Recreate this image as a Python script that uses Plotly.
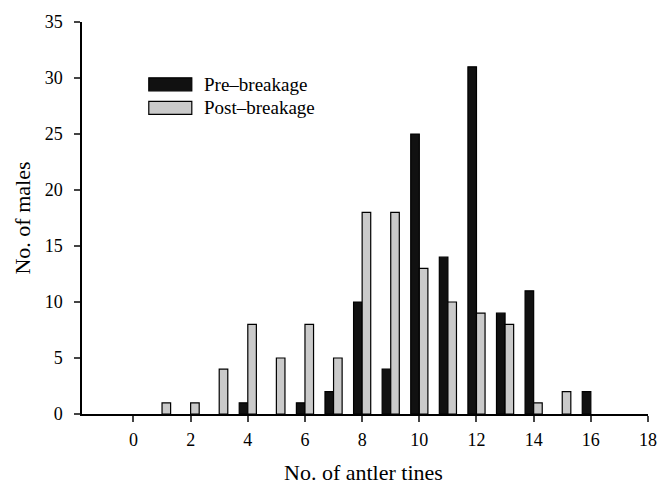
import plotly.graph_objects as go

tines = list(range(0, 17))
pre = [0, 0, 0, 0, 1, 0, 1, 2, 10, 4, 25, 14, 31, 9, 11, 0, 2]
post = [0, 1, 1, 4, 8, 5, 8, 5, 18, 18, 13, 10, 9, 8, 1, 2, 0]
x_ticks = list(range(0, 19, 2))
y_ticks = list(range(0, 36, 5))
series_names = ["Pre\u2013breakage", "Post\u2013breakage"]
x_title = "No. of antler tines"
y_title = "No. of males"

FONT = "Liberation Serif, Times New Roman, serif"


def nonzero(xs, ys):
    pairs = [(a, b) for a, b in zip(xs, ys) if b > 0]
    return [p[0] for p in pairs], [p[1] for p in pairs]


fig = go.Figure()
px_, py_ = nonzero(tines, pre)
fig.add_trace(go.Bar(x=px_, y=py_, name=series_names[0], width=0.3, offset=-0.3,
                     marker=dict(color="#111111", line=dict(color="#000000", width=1.2)),
                     showlegend=False))
qx_, qy_ = nonzero(tines, post)
fig.add_trace(go.Bar(x=qx_, y=qy_, name=series_names[1], width=0.3, offset=0,
                     marker=dict(color="#cacaca", line=dict(color="#000000", width=1.2)),
                     showlegend=False))

# legend drawn as swatches + text
leg_y = [0.841, 0.781]
leg_colors = ["#111111", "#cacaca"]
for name, yy, col in zip(series_names, leg_y, leg_colors):
    fig.add_shape(type="rect", xref="paper", yref="paper",
                  x0=0.118, x1=0.194, y0=yy - 0.0165, y1=yy + 0.0165,
                  fillcolor=col, line=dict(color="#000000", width=1.2))
    fig.add_annotation(xref="paper", yref="paper", x=0.212, y=yy, text=name,
                       showarrow=False, xanchor="left", yanchor="middle",
                       font=dict(family=FONT, size=19, color="#000000"))

# x-axis title
fig.add_annotation(xref="paper", yref="paper", x=0.498, y=-0.15, text=x_title,
                   showarrow=False, xanchor="center", yanchor="middle",
                   font=dict(family=FONT, size=22, color="#000000"))

fig.update_layout(
    width=668, height=486,
    margin=dict(l=82, r=20, t=22, b=72),
    paper_bgcolor="white", plot_bgcolor="white",
    barmode="overlay",
    font=dict(family=FONT, size=18, color="#000000"),
    xaxis=dict(range=[-1.8, 18], tickvals=x_ticks, ticks="outside", ticklen=6,
               tickwidth=1.5, showline=True, linecolor="#000000", linewidth=1.5,
               showgrid=False, zeroline=False, automargin=False,
               ticklabelstandoff=3,
               tickfont=dict(family=FONT, size=18)),
    yaxis=dict(range=[0, 35], tickvals=y_ticks, ticks="outside", ticklen=6,
               tickwidth=1.5, showline=True, linecolor="#000000", linewidth=1.5,
               showgrid=False, zeroline=False, automargin=False,
               ticklabelstandoff=8,
               tickfont=dict(family=FONT, size=18),
               title=dict(text=y_title, standoff=8,
                          font=dict(family=FONT, size=22))),
)

fig.write_html("out.html", config={"displayModeBar": False},
               post_script="document.body.style.margin='0';document.body.style.overflow='hidden';")
